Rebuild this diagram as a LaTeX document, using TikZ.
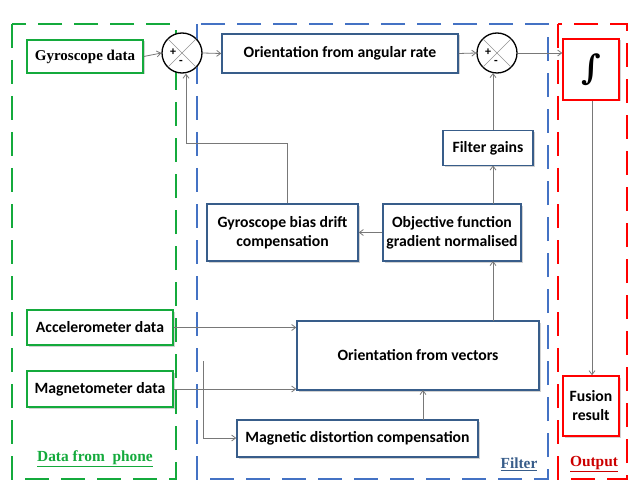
\documentclass[tikz,border=0pt]{standalone}
\usepackage{fontspec}
\setmainfont{Carlito}
\newfontfamily\labfont{Liberation Serif}
\newfontfamily\intfont{DejaVu Serif}
\usetikzlibrary{arrows.meta,shadows,calc}
\definecolor{grn}{RGB}{20,170,60}
\definecolor{bluedash}{RGB}{68,114,196}
\definecolor{boxblue}{RGB}{56,93,138}
\definecolor{redd}{RGB}{255,0,0}
\definecolor{conn}{RGB}{120,120,120}
\tikzset{
  region/.style={line width=2.8pt, dash pattern=on 24pt off 12pt},
  shad/.style={drop shadow={opacity=0.3, shadow xshift=1.5pt, shadow yshift=-1.5pt, fill=black!60}},
  bbox/.style={draw=boxblue, line width=1.5pt, fill=white, shad, inner sep=0pt, align=center,
     font=\fontsize{15.7}{19}\selectfont\bfseries},
  gbox/.style={bbox, draw=grn},
  rbox/.style={bbox, draw=redd},
  sumnode/.style={circle, draw=black, line width=1.3pt, fill=white, minimum size=40pt, inner sep=0pt},
  conn/.style={draw=conn, line width=0.8pt, -{Straight Barb[length=4pt,width=6pt]}},
  lab/.style={font=\labfont\fontsize{15.4}{17}\selectfont\bfseries, inner sep=0pt}
}
\begin{document}
\begin{tikzpicture}[x=1pt,y=-1pt]
\useasboundingbox (0,0) rectangle (631,481);
% regions
\draw[region, draw=grn] (12,24) rectangle (176,479);
\draw[region, draw=bluedash] (197,24) rectangle (548,479);
\draw[region, draw=redd] (558,24) rectangle (627,479);
% nodes
\node[gbox, minimum width=116pt, minimum height=33pt] (gyro) at (85,56.5) {\labfont\fontsize{15}{17}\selectfont\bfseries Gyroscope data};
\node[sumnode] (sum1) at (182,53) {};
\node[bbox, minimum width=236pt, minimum height=39pt] (oar) at (340,53.5) {Orientation from angular rate};
\node[sumnode] (sum2) at (497,53) {};
\node[rbox, minimum width=56pt, minimum height=61pt] (integ) at (591,69.5) {\intfont\fontsize{34}{34}\selectfont\bfseries ∫};
\node[rbox, minimum width=56pt, minimum height=60pt] (fusion) at (591,406) {Fusion\\result};
\node[bbox, minimum width=90pt, minimum height=35pt] (gains) at (488,148) {Filter gains};
\node[bbox, minimum width=138pt, minimum height=57pt] (obj) at (452,232.5) {Objective function\\gradient normalised};
\node[bbox, minimum width=151pt, minimum height=57pt] (bias) at (282.5,232.5) {Gyroscope bias drift\\compensation};
\node[bbox, minimum width=242pt, minimum height=69pt] (ofv) at (418,355.5) {Orientation from vectors};
\node[gbox, minimum width=146pt, minimum height=35pt] (acc) at (100,327.5) {Accelerometer data};
\node[gbox, minimum width=146pt, minimum height=36pt] (mag) at (100,389) {Magnetometer data};
\node[bbox, minimum width=241pt, minimum height=37pt] (mdc) at (357.5,438.5) {Magnetic distortion compensation};
% sum decorations
\foreach \s in {sum1,sum2}{
  \draw[conn!80, line width=0.6pt] (\s.north west) -- (\s.south east);
  \draw[conn!80, line width=0.6pt] (\s.north east) -- (\s.south west);
  \node[font=\fontsize{12}{12}\selectfont\bfseries, inner sep=0pt] at ($(\s.center)+(-9,-1)$) {+};
  \node[font=\fontsize{12}{12}\selectfont\bfseries, inner sep=0pt] at ($(\s.center)+(-1,9)$) {-};
}
% labels
\node[lab, text=grn] (l1) at (95,459) {\underline{Data from\ \ phone}};
\node[lab, text=boxblue] (l2) at (519,464) {\underline{Filter}};
\node[lab, text=red!80!black] (l3) at (594,464) {\underline{Output}};
% connectors
\coordinate (b1) at (287,143);
\coordinate (b2) at (186,143);
\coordinate (br) at (203,361);
\coordinate (brb) at (203,438);
\draw[conn] (gyro.east) -- (sum1.west);
\draw[conn] (sum1.east) -- (oar.west);
\draw[conn] (oar.east) -- (sum2.west);
\draw[conn] (sum2.east) -- (integ.west |- sum2.east);
\draw[conn] ($(integ.south)+(1,0)$) -- ($(fusion.north)+(1,0)$);
\draw[conn] (493,130) -- (493,73);
\draw[conn] (493,204) -- (493,165.5);
\draw[conn] (493,321) -- (493,261);
\draw[conn] (obj.west) -- (bias.east);
\draw[conn] (bias.north -| b1) -- (b1) -- (b2) -- (b2 |- sum1.south);
\draw[conn] (acc.east) -- (acc.east -| ofv.west);
\draw[conn] (mag.east) -- (mag.east -| ofv.west);
\draw[conn] (br) -- (brb) -- (mdc.west |- brb);
\draw[conn] (423,420) -- (423,390);
\end{tikzpicture}
\end{document}
